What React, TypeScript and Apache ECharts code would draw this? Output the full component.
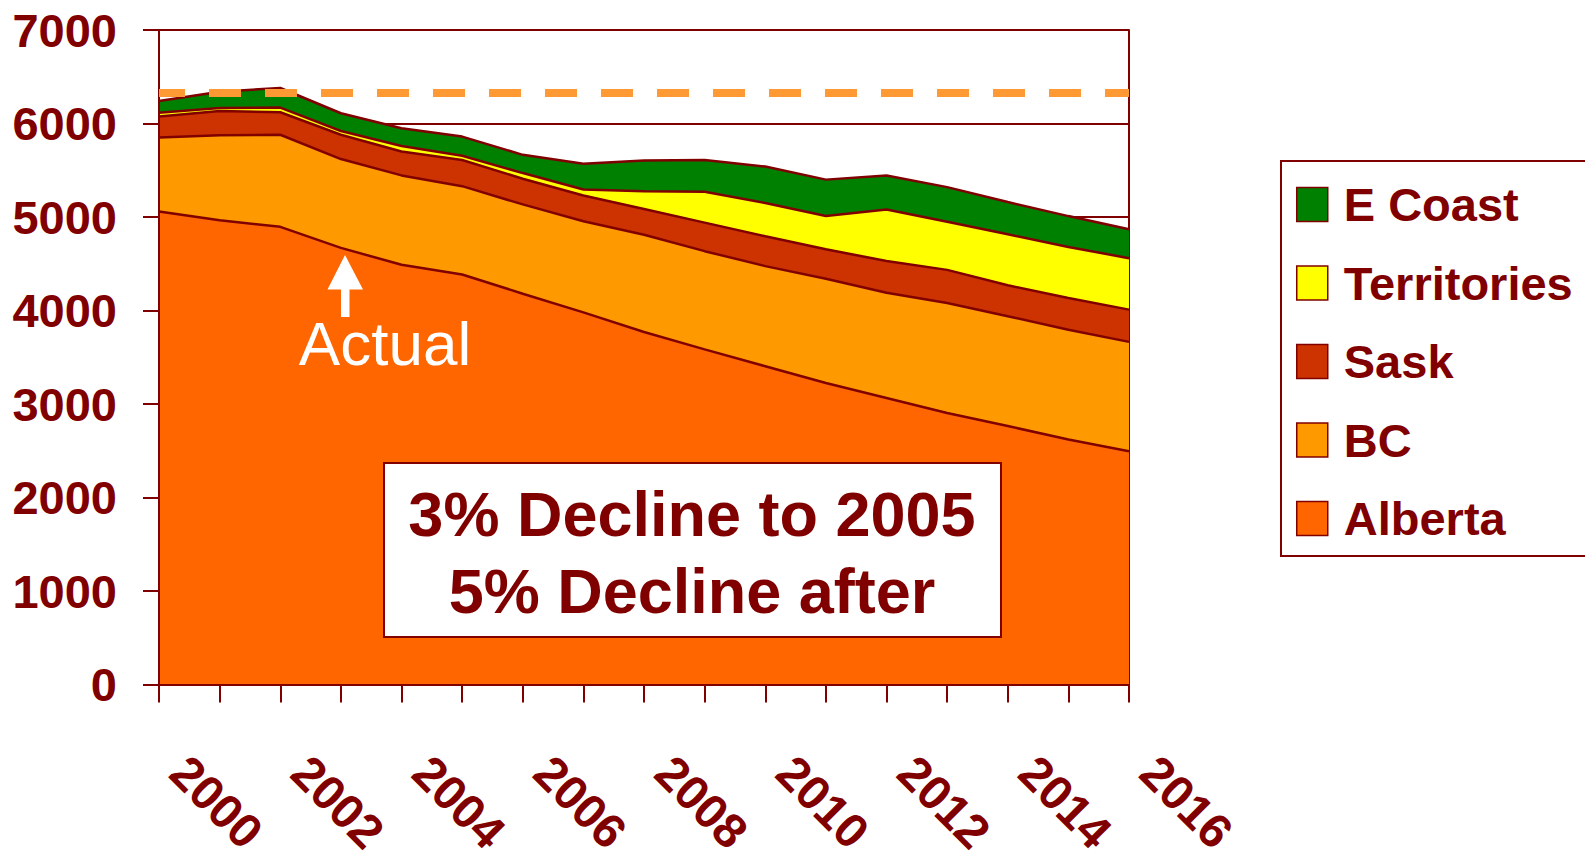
import React, { useEffect, useRef } from "react";
import * as echarts from "echarts";

const years = ["2000","2001","2002","2003","2004","2005","2006","2007","2008","2009","2010","2011","2012","2013","2014","2015","2016"];
const alberta = [5060, 4965, 4895, 4670, 4490, 4385, 4180, 3980, 3770, 3585, 3405, 3225, 3065, 2905, 2765, 2620, 2495];
const bc = [790, 910, 985, 950, 955, 945, 955, 975, 1040, 1050, 1070, 1115, 1125, 1175, 1175, 1175, 1170];
const sask = [225, 260, 240, 260, 255, 280, 275, 275, 275, 305, 320, 315, 340, 355, 330, 340, 345];
const territories = [40, 30, 50, 40, 60, 45, 60, 65, 190, 330, 355, 355, 550, 515, 545, 545, 550];
const eCoast = [125, 175, 210, 190, 190, 205, 195, 275, 330, 340, 390, 390, 365, 370, 345, 330, 310];
const referenceLevel = 6330;
const legendOrder = ["E Coast", "Territories", "Sask", "BC", "Alberta"];
const noteLines = ["3% Decline to 2005", "5% Decline after"];
const arrowLabel = "Actual";

const DARK = "#800000";
const FONT = "'Liberation Sans', Arial, Helvetica, sans-serif";

export default function App() {
  const ref = useRef<HTMLDivElement>(null);
  useEffect(() => {
    if (!ref.current) return;
    const chart = echarts.init(ref.current, undefined, { renderer: "svg" });
    const mk = (name: string, data: number[], color: string, extra: any = {}) => ({
      name,
      type: "line",
      stack: "total",
      data,
      symbol: "none",
      showSymbol: false,
      lineStyle: { color: DARK, width: 2.5 },
      itemStyle: { color, borderColor: DARK, borderWidth: 1.5 },
      areaStyle: { color, opacity: 1 },
      emphasis: { disabled: true },
      ...extra,
    });
    chart.setOption({
      animation: false,
      textStyle: { fontFamily: FONT },
      grid: { left: 159, right: 456, top: 30, bottom: 170, containLabel: false },
      legend: {
        orient: "vertical",
        left: 1281,
        top: 161,
        padding: [20, 40, 14, 15],
        borderColor: DARK,
        borderWidth: 2,
        backgroundColor: "#ffffff",
        icon: "rect",
        itemWidth: 31,
        itemHeight: 34,
        itemGap: 31.5,
        selectedMode: false,
        data: legendOrder,
        itemStyle: { borderColor: DARK, borderWidth: 1.5 },
        textStyle: { fontSize: 47, fontWeight: "bold", color: DARK, fontFamily: FONT, padding: [0, 0, 0, 11] },
      },
      xAxis: {
        type: "category",
        data: years,
        boundaryGap: false,
        z: 5,
        axisLine: { show: true, lineStyle: { color: DARK, width: 2 } },
        axisTick: { show: true, interval: 0, length: 18, lineStyle: { color: DARK, width: 2 } },
        axisLabel: {
          interval: 1,
          rotate: -45,
          margin: 60,
          padding: [0, 0, 0, 28],
          fontSize: 48,
          fontWeight: "bold",
          color: DARK,
          fontFamily: FONT,
        },
        splitLine: { show: false },
      },
      yAxis: [
        {
          type: "value",
          min: 0,
          max: 7000,
          interval: 1000,
          position: "left",
          z: 5,
          axisLine: { show: true, lineStyle: { color: DARK, width: 2 } },
          axisTick: { show: true, length: 16, lineStyle: { color: DARK, width: 2 } },
          axisLabel: {
            margin: 42,
            fontSize: 47,
            fontWeight: "bold",
            color: DARK,
            fontFamily: FONT,
            formatter: (v: number) => String(v),
          },
          splitLine: { show: false },
        },
        {
          type: "value",
          min: 0,
          max: 7000,
          interval: 1000,
          position: "right",
          axisLine: { show: true, lineStyle: { color: DARK, width: 2 } },
          axisTick: { show: false },
          axisLabel: { show: false },
          splitLine: { show: true, lineStyle: { color: DARK, width: 2 } },
        },
      ],
      series: [
        mk("Alberta", alberta, "#FF6600"),
        mk("BC", bc, "#FF9900"),
        mk("Sask", sask, "#CC3300"),
        mk("Territories", territories, "#FFFF00"),
        mk("E Coast", eCoast, "#008000", {
          markLine: {
            silent: true,
            symbol: "none",
            label: { show: false },
            lineStyle: { color: "#FF9933", width: 8, type: [32, 24], dashOffset: 6 },
            data: [{ yAxis: referenceLevel }],
            z: 10,
          },
        }),
      ],
      graphic: [
        {
          type: "polygon",
          z: 100,
          shape: { points: [[345, 255], [327.5, 289.5], [341, 289.5], [341, 317], [349.5, 317], [349.5, 289.5], [363, 289.5]] },
          style: { fill: "#ffffff" },
        },
        {
          type: "text",
          z: 100,
          x: 385,
          y: 343,
          style: {
            text: arrowLabel,
            fill: "#ffffff",
            font: `62px ${FONT}`,
            textAlign: "center",
            textVerticalAlign: "middle",
          },
        },
        {
          type: "rect",
          z: 100,
          shape: { x: 384, y: 463, width: 617, height: 174 },
          style: { fill: "#ffffff", stroke: DARK, lineWidth: 2 },
        },
        {
          type: "text",
          z: 101,
          x: 692,
          y: 514,
          style: {
            text: noteLines[0],
            fill: DARK,
            font: `bold 63px ${FONT}`,
            textAlign: "center",
            textVerticalAlign: "middle",
          },
        },
        {
          type: "text",
          z: 101,
          x: 692,
          y: 591,
          style: {
            text: noteLines[1],
            fill: DARK,
            font: `bold 63px ${FONT}`,
            textAlign: "center",
            textVerticalAlign: "middle",
          },
        },
      ],
    });
    return () => chart.dispose();
  }, []);
  return (
    <div
      ref={ref}
      style={{ position: "fixed", left: 0, top: 0, width: 1585, height: 859, background: "#ffffff" }}
    />
  );
}
